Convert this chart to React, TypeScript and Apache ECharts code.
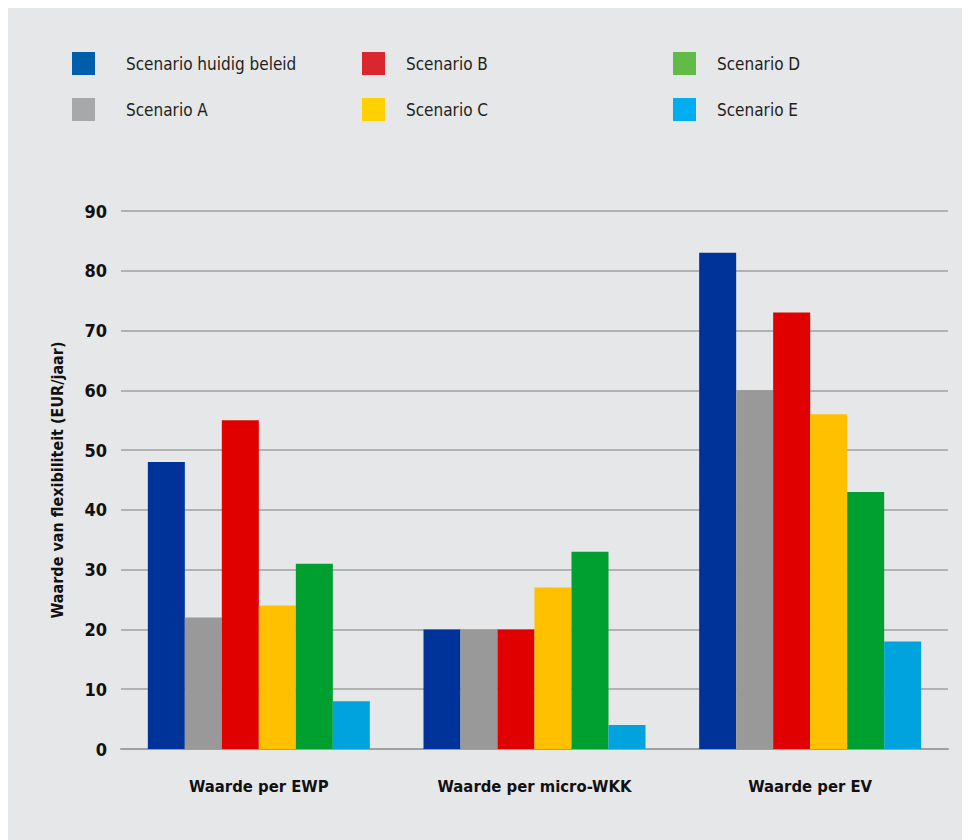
import React, { useEffect, useRef } from "react";
import * as echarts from "echarts";

const categories = ["Waarde per EWP", "Waarde per micro-WKK", "Waarde per EV"];
const scenarioNames = [
  "Scenario huidig beleid",
  "Scenario A",
  "Scenario B",
  "Scenario C",
  "Scenario D",
  "Scenario E",
];
const huidigBeleid = [48, 20, 83];
const scenarioA = [22, 20, 60];
const scenarioB = [55, 20, 73];
const scenarioC = [24, 27, 56];
const scenarioD = [31, 33, 43];
const scenarioE = [8, 4, 18];
const seriesValues = [huidigBeleid, scenarioA, scenarioB, scenarioC, scenarioD, scenarioE];
const barColors = ["#003399", "#999999", "#E10000", "#FFC000", "#00A030", "#00A3DD"];
const legendColors = ["#005DAA", "#A7A8AA", "#D9262F", "#FFD100", "#62BB46", "#00AEEF"];
const yTicks = [0, 10, 20, 30, 40, 50, 60, 70, 80, 90];

const narrow = "'DejaVu Sans Condensed', 'Liberation Sans Narrow', sans-serif";

export default function App() {
  const ref = useRef<HTMLDivElement>(null);
  useEffect(() => {
    if (!ref.current) return;
    const chart = echarts.init(ref.current, undefined, { renderer: "svg" });
    const legendCols = [
      { idx: [0, 1], left: 64, textPad: 26 },
      { idx: [2, 3], left: 354, textPad: 16 },
      { idx: [4, 5], left: 665, textPad: 16 },
    ];
    chart.setOption({
      animation: false,
      backgroundColor: "#E6E7E9",
      legend: legendCols.map((c) => ({
        orient: "vertical",
        left: c.left,
        top: 44,
        padding: 0,
        itemWidth: 23,
        itemHeight: 23,
        itemGap: 23,
        icon: "rect",
        selectedMode: false,
        textStyle: {
          fontFamily: narrow,
          fontSize: 17,
          color: "#231F20",
          padding: [0, 0, 0, c.textPad],
        },
        data: c.idx.map((i) => ({
          name: scenarioNames[i],
          itemStyle: { color: legendColors[i] },
        })),
      })),
      grid: { left: 113, right: 14, top: 203, bottom: 91, containLabel: false },
      xAxis: {
        type: "category",
        data: categories,
        axisLine: { lineStyle: { color: "#A0A0A0", width: 2 } },
        axisTick: { show: false },
        axisLabel: {
          margin: 29,
          fontFamily: narrow,
          fontWeight: "bold",
          fontSize: 16.5,
          color: "#111111",
        },
      },
      yAxis: {
        type: "value",
        min: 0,
        max: 90,
        interval: 10,
        name: "Waarde van flexibiliteit (EUR/jaar)",
        nameLocation: "middle",
        nameGap: 56,
        nameTextStyle: {
          fontFamily: narrow,
          fontWeight: "bold",
          fontSize: 16,
          color: "#111111",
        },
        axisLine: { show: false },
        axisTick: { show: false },
        axisLabel: {
          margin: 14,
          fontFamily: narrow,
          fontWeight: "bold",
          fontSize: 18,
          color: "#111111",
          formatter: (v: number) => (yTicks.includes(v) ? String(v) : ""),
        },
        splitLine: { lineStyle: { color: "#A0A0A0", width: 1.5 } },
      },
      series: seriesValues.map((vals, i) => ({
        type: "bar",
        name: scenarioNames[i],
        data: vals,
        barWidth: 37,
        barGap: "0%",
        itemStyle: { color: barColors[i] },
      })),
    });
    return () => chart.dispose();
  }, []);
  return <div ref={ref} style={{ width: 954, height: 832 }} />;
}
